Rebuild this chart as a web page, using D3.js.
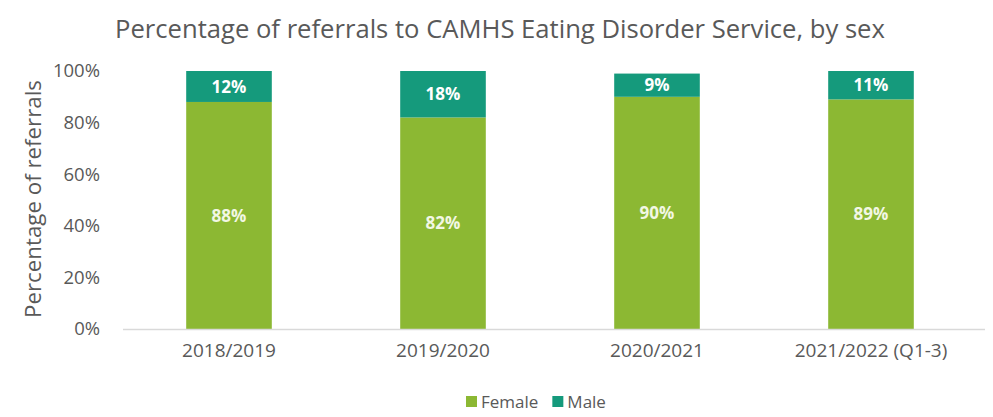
<!DOCTYPE html>
<html>
<head>
<meta charset="utf-8">
<script src="https://cdn.jsdelivr.net/npm/d3@7"></script>
<style>
  html, body { margin: 0; padding: 0; background: #fff; }
  svg { display: block; font-family: "Open Sans", "Noto Sans", sans-serif; }
</style>
</head>
<body>
<svg id="chart" width="993" height="417"></svg>
<script>
// Referrals to CAMHS Eating Disorder Service, share by sex per year
const categories = ["2018/2019", "2019/2020", "2020/2021", "2021/2022 (Q1-3)"];
const female = [88, 82, 90, 89];
const male = [12, 18, 9, 11];
const seriesNames = ["Female", "Male"];
const seriesColors = ["#8cb833", "#159a7c"];
const yTicks = [0, 20, 40, 60, 80, 100];

const svg = d3.select("#chart");
const textColor = "#595959";

const x = d3.scaleBand().domain(categories).range([122, 978]).paddingInner(0.6).paddingOuter(0.3);
const y = d3.scaleLinear().domain([0, 100]).range([329, 71]);

// stacked rows
const rows = categories.map((c, i) => ({ cat: c, Female: female[i], Male: male[i] }));
const stack = d3.stack().keys(seriesNames)(rows);

// scale a text element's font so it spans a given width
function fitWidth(sel, target) {
  const node = sel.node();
  const fs = parseFloat(sel.attr("font-size"));
  const w = node.getComputedTextLength();
  sel.attr("font-size", (fs * target / w).toFixed(2));
}

// title
const title = svg.append("text")
  .attr("x", 500).attr("y", 38)
  .attr("text-anchor", "middle")
  .attr("font-size", 22)
  .attr("fill", textColor)
  .text("Percentage of referrals to CAMHS Eating Disorder Service, by sex");
fitWidth(title, 770);

// y axis (labels only)
const yAxis = d3.axisLeft(y).tickValues(yTicks).tickFormat(d => d + "%").tickSize(0).tickPadding(0);
const gy = svg.append("g").attr("transform", "translate(100,0)").call(yAxis);
gy.select(".domain").remove();
gy.selectAll("text").attr("font-size", 18.5).attr("fill", textColor)
  .attr("font-family", "\"Open Sans\", sans-serif");

// y axis title
const yTitle = svg.append("text")
  .attr("transform", "translate(41,199) rotate(-90)")
  .attr("text-anchor", "middle")
  .attr("font-size", 19)
  .attr("fill", textColor)
  .text("Percentage of referrals");
fitWidth(yTitle, 238);

// bars
const layers = svg.append("g").selectAll("g").data(stack).join("g")
  .attr("fill", (d, i) => seriesColors[i]);
layers.selectAll("rect").data(d => d).join("rect")
  .attr("x", d => x(d.data.cat))
  .attr("width", x.bandwidth())
  .attr("y", d => y(d[1]))
  .attr("height", d => y(d[0]) - y(d[1]));

// value labels
stack.forEach(layer => {
  svg.append("g").selectAll("text").data(layer).join("text")
    .attr("x", d => x(d.data.cat) + x.bandwidth() / 2)
    .attr("y", d => (y(d[0]) + y(d[1])) / 2)
    .attr("dy", "0.36em")
    .attr("text-anchor", "middle")
    .attr("font-size", 17)
    .attr("font-weight", "bold")
    .attr("fill", layer.key === "Female" ? "#f2f7e4" : "#ffffff")
    .text(d => (d[1] - d[0]) + "%");
});

// x axis baseline and labels
const xAxis = d3.axisBottom(x).tickSize(0).tickPadding(15);
const gx = svg.append("g").attr("transform", "translate(0,329)").call(xAxis);
gx.select(".domain").remove();
svg.append("line").attr("x1", 123).attr("x2", 985).attr("y1", 329.5).attr("y2", 329.5)
  .attr("stroke", "#d9d9d9").attr("stroke-width", 1.5);
gx.selectAll("text").attr("font-size", 19).attr("fill", textColor)
  .attr("font-family", "\"Open Sans\", sans-serif");

// legend
const legend = svg.append("g").attr("transform", "translate(466,408)");
let lx = 0;
seriesNames.forEach((name, i) => {
  const g = legend.append("g").attr("transform", `translate(${lx},0)`);
  g.append("rect").attr("x", 0).attr("y", -12).attr("width", 11).attr("height", 11).attr("fill", seriesColors[i]);
  const t = g.append("text").attr("x", 15).attr("y", 0).attr("font-size", 17).attr("fill", textColor).text(name);
  lx += 15 + t.node().getComputedTextLength() + 14;
});
</script>
</body>
</html>
